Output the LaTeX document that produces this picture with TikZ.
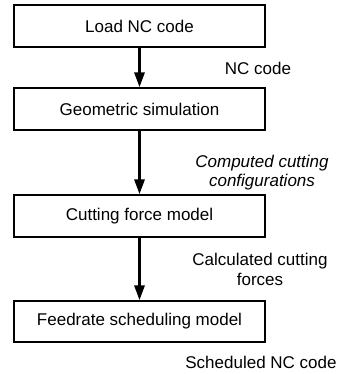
\documentclass[tikz,border=0pt]{standalone}
\usepackage{fontspec}
\setmainfont{Liberation Sans}
\usetikzlibrary{arrows.meta}
\begin{document}
\begin{tikzpicture}[x=1pt,y=1pt,
  box/.style={draw=black,line width=1.3pt,minimum width=251pt,minimum height=42pt,inner sep=0pt,font=\fontsize{17}{19}\selectfont},
  lbl/.style={align=center,inner sep=0pt,font=\fontsize{17}{20}\selectfont},
  flow/.style={line width=3pt,-{Triangle[width=10pt,length=15pt]}}]
\useasboundingbox (0,0) rectangle (343,374);
\node[box] (b1) at (139.5,348) {Load NC code};
\node[box] (b2) at (139.5,265) {Geometric simulation};
\node[box] (b3) at (139.5,158) {Cutting force model};
\node[box,minimum height=41pt] (b4) at (139.5,52.5) {Feedrate scheduling model};
\draw[flow] (b1) -- (b2);
\draw[flow] (b2) -- (b3);
\draw[flow] (b3) -- (b4);
\node[lbl] (l1) at (258,306) {NC code};
\node[lbl,font=\fontsize{17}{19}\selectfont\itshape] (l2) at (262,201.5) {Computed cutting\\configurations};
\node[lbl] (l3) at (260,105) {Calculated cutting\\forces};
\node[lbl] (l4) at (261,12) {Scheduled NC code};
\end{tikzpicture}
\end{document}
